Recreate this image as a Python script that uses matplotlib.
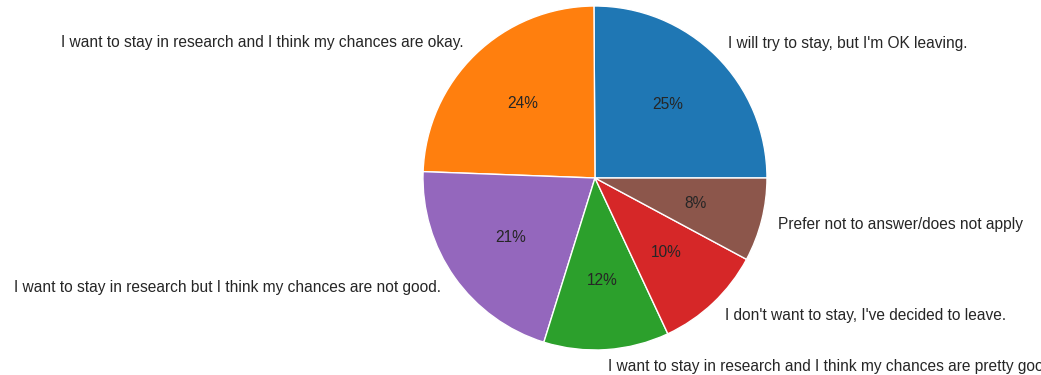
import matplotlib
matplotlib.use("Agg")
import matplotlib.pyplot as plt

# survey answers (counts)
labels = [
    "I will try to stay, but I'm OK leaving.",
    "I want to stay in research and I think my chances are okay.",
    "I want to stay in research but I think my chances are not good.",
    "I want to stay in research and I think my chances are pretty good.",
    "I don't want to stay, I've decided to leave.",
    "Prefer not to answer/does not apply",
]
counts = [64, 62, 53, 30, 26, 20]
colors = ["#1f77b4", "#ff7f0e", "#9467bd", "#2ca02c", "#d62728", "#8c564b"]

plt.rcParams["font.family"] = ["Liberation Sans", "DejaVu Sans"]
plt.rcParams["text.color"] = "0.15"

fig = plt.figure(figsize=(10.41, 3.75), dpi=100)
ax = fig.add_axes([0.4063, 0.0667, 0.3305, 0.9173])
ax.pie(counts, labels=labels, colors=colors, autopct="%1.0f%%",
       wedgeprops={"edgecolor": "white", "linewidth": 1},
       textprops={"fontsize": 11.2})
ax.set_xlim(-1, 1)
ax.set_ylim(-1, 1)
ax.set_aspect("equal")

fig.savefig("out.png", dpi=100)
